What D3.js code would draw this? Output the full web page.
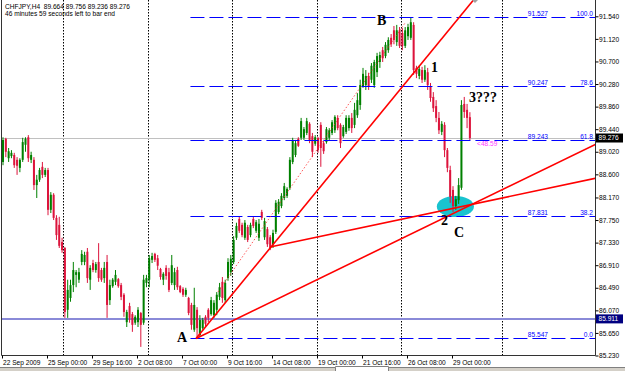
<!DOCTYPE html>
<html>
<head>
<meta charset="utf-8">
<script src="https://cdnjs.cloudflare.com/ajax/libs/d3/7.8.5/d3.min.js"></script>
<style>
  body { margin: 0; background: #fff; }
  svg { display: block; }
</style>
</head>
<body>
<svg id="chart" width="625" height="371"></svg>
<script>
// CHFJPY H4, bar 0 = 22 Sep 2009 08:00, last bar = 30 Oct 2009 00:00
const opens = [
  88.83, 89.26, 88.90, 88.94, 88.96, 88.87, 88.72, 88.87, 89.15, 89.29, 88.87, 88.87, 88.40, 88.50, 88.74, 88.59,
  88.68, 87.94, 88.22, 87.79, 87.66, 87.34, 87.23, 86.08, 86.30, 86.54, 86.73, 86.64, 86.97, 86.97, 87.16, 86.64,
  86.95, 86.82, 86.97, 86.82, 86.67, 86.97, 86.26, 86.52, 86.60, 86.65, 86.54, 86.36, 85.85, 86.15, 86.00, 85.84,
  85.85, 86.02, 85.84, 86.58, 86.64, 87.01, 87.12, 87.04, 86.84, 86.64, 86.86, 86.78, 86.58, 86.54, 86.82, 86.52,
  86.47, 86.36, 86.30, 86.17, 85.71, 86.08, 85.61, 85.74, 85.95, 86.08, 86.00, 85.98, 86.08, 86.32, 86.60, 86.26,
  86.67, 86.78, 86.97, 87.42, 87.77, 87.66, 87.42, 87.62, 87.47, 87.77, 87.55, 87.42, 87.90, 87.43, 87.58, 87.43,
  87.29, 87.53, 87.90, 88.01, 88.16, 88.20, 88.35, 88.83, 88.96, 89.26, 89.28, 89.28, 89.37, 89.54, 89.31, 89.17,
  89.28, 89.52, 89.18, 89.20, 89.28, 89.37, 89.42, 89.65, 89.52, 89.31, 89.39, 89.46, 89.65, 89.52, 89.70, 89.89,
  90.24, 90.26, 90.43, 90.36, 90.26, 90.50, 90.69, 90.91, 90.80, 90.91, 91.14, 91.28, 91.06, 91.28, 91.23, 90.99,
  91.17, 91.14, 91.38, 90.58, 90.43, 90.54, 90.36, 90.50, 90.24, 90.04, 89.87, 89.65, 89.39, 89.52, 89.05, 88.68,
  88.31, 88.01, 88.12, 88.35, 89.91, 89.80, 89.664
];
const highs = [
  89.29, 89.28, 89.09, 89.05, 89.00, 88.92, 88.90, 89.28, 89.29, 89.33, 89.02, 88.92, 88.59, 88.72, 88.83, 88.72,
  88.72, 88.27, 88.25, 87.84, 87.81, 87.42, 87.25, 86.64, 86.64, 86.97, 86.82, 86.86, 87.19, 87.16, 87.23, 86.91,
  87.01, 86.97, 87.32, 86.86, 86.97, 87.10, 86.64, 86.67, 86.82, 86.67, 86.58, 86.39, 86.08, 86.21, 86.04, 85.98,
  86.13, 86.04, 86.73, 86.73, 87.10, 87.14, 87.14, 87.10, 86.86, 86.78, 86.91, 86.86, 87.10, 86.86, 86.88, 86.54,
  86.50, 86.49, 86.32, 86.21, 86.49, 86.13, 85.98, 85.93, 85.98, 86.11, 86.32, 86.26, 86.41, 86.58, 86.69, 86.64,
  87.04, 87.10, 87.45, 87.70, 87.81, 87.70, 87.75, 87.66, 87.70, 87.81, 87.75, 87.77, 87.94, 87.79, 87.62, 87.47,
  87.57, 88.12, 88.14, 88.25, 88.44, 88.36, 88.92, 89.28, 89.24, 89.29, 89.65, 89.48, 89.65, 89.57, 89.37, 89.33,
  89.29, 89.57, 89.22, 89.48, 89.46, 89.61, 89.70, 89.70, 89.55, 89.52, 89.70, 89.70, 89.74, 89.93, 90.11, 90.36,
  90.58, 90.54, 90.49, 90.67, 90.73, 90.86, 90.88, 90.97, 91.06, 91.15, 91.21, 91.36, 91.38, 91.34, 91.32, 91.34,
  91.40, 91.527, 91.43, 90.62, 90.62, 90.60, 90.63, 90.58, 90.30, 90.13, 89.98, 89.76, 89.59, 89.57, 89.09, 88.76,
  88.38, 88.20, 88.53, 89.98, 90.04, 89.91, 89.756
];
const lows = [
  88.77, 88.92, 88.83, 88.90, 88.72, 88.59, 88.64, 88.83, 89.02, 88.83, 88.81, 88.31, 88.16, 88.46, 88.53, 88.55,
  87.84, 87.88, 87.75, 87.38, 87.23, 87.14, 85.93, 85.93, 86.23, 86.41, 86.50, 86.58, 86.91, 86.91, 86.58, 86.45,
  86.78, 86.77, 86.60, 86.60, 86.58, 85.93, 86.17, 86.49, 86.54, 86.49, 86.26, 85.95, 85.76, 85.84, 85.67, 85.80,
  85.76, 85.39, 85.80, 86.50, 86.50, 86.95, 86.97, 86.82, 86.64, 86.54, 86.64, 86.41, 86.54, 86.45, 86.45, 86.39,
  86.32, 86.32, 85.98, 85.71, 85.67, 85.547, 85.59, 85.71, 85.76, 85.85, 85.97, 85.93, 85.98, 86.26, 86.21, 86.21,
  86.62, 86.71, 86.93, 87.38, 87.51, 87.43, 87.38, 87.34, 87.43, 87.60, 87.51, 87.36, 87.75, 87.38, 87.25, 87.19,
  87.23, 87.49, 87.86, 87.97, 88.12, 88.16, 88.31, 88.79, 88.92, 89.11, 89.24, 89.24, 89.33, 89.18, 88.92, 89.13,
  89.00, 88.74, 88.98, 89.17, 89.24, 89.33, 89.37, 89.42, 89.09, 89.28, 89.35, 89.41, 89.37, 89.46, 89.65, 89.80,
  90.21, 90.17, 90.17, 90.30, 90.21, 90.41, 90.58, 90.69, 90.76, 90.86, 90.97, 91.02, 90.99, 90.95, 90.91, 90.95,
  91.10, 91.10, 90.45, 90.39, 90.37, 90.30, 90.32, 90.17, 89.95, 89.76, 89.57, 89.35, 89.33, 88.92, 88.64, 88.07,
  87.90, 87.94, 88.05, 88.31, 89.65, 89.46, 89.236
];
const closes = [
  89.24, 89.02, 89.03, 89.00, 88.77, 88.76, 88.87, 89.20, 89.26, 88.90, 88.96, 88.40, 88.50, 88.68, 88.59, 88.68,
  87.94, 88.22, 87.79, 87.47, 87.27, 87.19, 86.04, 86.45, 86.54, 86.82, 86.78, 86.78, 87.12, 87.10, 86.67, 86.86,
  86.82, 86.93, 86.67, 86.64, 86.86, 86.17, 86.54, 86.64, 86.73, 86.52, 86.32, 86.04, 86.04, 85.93, 85.80, 85.95,
  86.08, 85.80, 86.64, 86.67, 87.04, 87.08, 87.01, 86.90, 86.69, 86.75, 86.71, 86.45, 86.91, 86.78, 86.50, 86.41,
  86.36, 86.45, 86.02, 85.80, 86.17, 85.74, 85.89, 85.89, 85.82, 85.93, 86.26, 86.21, 86.36, 86.50, 86.30, 86.58,
  86.97, 87.03, 87.38, 87.64, 87.55, 87.47, 87.70, 87.38, 87.66, 87.64, 87.71, 87.68, 87.79, 87.73, 87.30, 87.23,
  87.51, 88.07, 88.09, 88.20, 88.38, 88.33, 88.87, 89.22, 89.18, 89.13, 89.59, 89.44, 89.59, 89.24, 89.02, 89.29,
  89.05, 89.09, 89.03, 89.44, 89.42, 89.57, 89.67, 89.46, 89.18, 89.48, 89.65, 89.65, 89.46, 89.80, 89.98, 90.26,
  90.47, 90.43, 90.24, 90.62, 90.69, 90.80, 90.82, 90.76, 91.01, 91.10, 91.02, 91.10, 91.28, 90.99, 90.99, 91.28,
  91.34, 91.43, 90.54, 90.47, 90.56, 90.36, 90.54, 90.26, 90.02, 89.83, 89.65, 89.42, 89.54, 89.05, 88.72, 88.18,
  88.01, 88.14, 88.40, 89.89, 89.76, 89.65, 89.276
];

// time axis
const timeTickBars = [0, 16, 32, 48, 64, 80, 96, 112, 128, 144, 160];
const timeTickLabels = ["22 Sep 2009", "25 Sep 00:00", "29 Sep 16:00", "2 Oct 08:00", "7 Oct 00:00",
  "9 Oct 16:00", "14 Oct 08:00", "19 Oct 00:00", "21 Oct 16:00", "26 Oct 08:00", "29 Oct 00:00"];
const gridBars = [22, 52, 82, 112, 142, 178];

// price axis
const priceTicks = [91.54, 91.12, 90.70, 90.28, 89.86, 89.44, 89.02, 88.60, 88.17, 87.75, 87.33,
  86.91, 86.49, 86.07, 85.65, 85.23];

// objects on the chart
const bidPrice = 89.276;
const hLinePrice = 85.911;
const fibLevels = [0, 38.2, 61.8, 78.6, 100];
const fibLow = 85.547, fibHigh = 91.527, fibStartBar = 67;
const trendLines = [
  {a: [69, 85.547], b: [141.5, 90.175]},
  {a: [69, 85.547], b: [198.4, 88.837]},
  {a: [95.3, 87.249], b: [210.9, 88.525]}
];
const dottedLine = {a: [76.8, 86.412], b: [143.3, 91.415]};
const ellipse = {bar: 161.2, price: 88.002, rBars: 6.6, rPrice: 0.195};
const waveLabels = [
  {t: "A", bar: 62.2, price: 85.482},
  {t: "B", bar: 133.3, price: 91.369},
  {t: "1", bar: 152.5, price: 90.504},
  {t: "2", bar: 156.1, price: 87.649},
  {t: "C", bar: 160.7, price: 87.435},
  {t: "3???", bar: 166.0, price: 89.946}
];
const note = {t: "<48.59", bar: 168.9, price: 89.127};

const FONT = "'Liberation Sans', Arial, sans-serif";
const svg = d3.select("#chart");
const left = 1.5, right = 595.5, bottom = 355.5;

const x = d3.scaleLinear().domain([0, 160]).range([2, 452]);
const y = d3.scaleLinear().domain([85.23, 91.54]).range([355.5, 16.3]);

svg.append("defs").append("clipPath").attr("id", "plotclip")
  .append("rect").attr("x", 2).attr("y", 0).attr("width", 593).attr("height", 355);

const plot = svg.append("g").attr("clip-path", "url(#plotclip)");

// Add vertical grid
plot.selectAll(".vgrid")
  .data(gridBars)
  .enter()
  .append("line")
  .attr("x1", d => Math.floor(x(d)) + 0.5)
  .attr("x2", d => Math.floor(x(d)) + 0.5)
  .attr("y1", 0)
  .attr("y2", bottom)
  .style("stroke", "#000")
  .style("stroke-dasharray", "1.5,1.5");

// Add ellipse (background object)
plot.append("ellipse")
  .attr("cx", x(ellipse.bar))
  .attr("cy", y(ellipse.price))
  .attr("rx", x(ellipse.rBars) - x(0))
  .attr("ry", y(fibLow) - y(fibLow + ellipse.rPrice))
  .style("fill", "#19c3cf");

// Add bid line and horizontal line
plot.append("line")
  .attr("x1", left).attr("x2", right)
  .attr("y1", Math.round(y(bidPrice)) + 0.5).attr("y2", Math.round(y(bidPrice)) + 0.5)
  .style("stroke", "#c0c0c0");
plot.append("line")
  .attr("x1", left).attr("x2", right)
  .attr("y1", y(hLinePrice)).attr("y2", y(hLinePrice))
  .style("stroke", "#8a8ad8")
  .style("stroke-width", 2);

// Add candles
const bars = opens.map((o, i) => ({i: i, o: o, h: highs[i], l: lows[i], c: closes[i]}));
const bull = "#008000", bear = "#dc143c";
const candles = plot.append("g");
candles.selectAll("line")
  .data(bars)
  .enter()
  .append("line")
  .attr("x1", d => x(d.i) + 1)
  .attr("x2", d => x(d.i) + 1)
  .attr("y1", d => y(d.h))
  .attr("y2", d => y(d.l))
  .style("stroke", d => d.c >= d.o ? bull : bear)
  .style("stroke-width", 1);
candles.selectAll("rect")
  .data(bars)
  .enter()
  .append("rect")
  .attr("x", d => x(d.i))
  .attr("width", 2)
  .attr("y", d => y(Math.max(d.o, d.c)))
  .attr("height", d => Math.max(1, Math.abs(y(d.o) - y(d.c))))
  .style("fill", d => d.c >= d.o ? bull : bear);

// Add fibonacci levels
const fib = plot.append("g");
const fibPrice = lv => fibLow + (fibHigh - fibLow) * lv / 100;
fib.selectAll("line")
  .data(fibLevels)
  .enter()
  .append("line")
  .attr("x1", x(fibStartBar))
  .attr("x2", right)
  .attr("y1", d => Math.round(y(fibPrice(d))) + 0.5)
  .attr("y2", d => Math.round(y(fibPrice(d))) + 0.5)
  .style("stroke", "#0000ff")
  .style("stroke-dasharray", "14,5");
fib.selectAll(".fibval")
  .data(fibLevels)
  .enter()
  .append("text")
  .attr("x", 548)
  .attr("y", d => Math.round(y(fibPrice(d))) - 1)
  .attr("text-anchor", "end")
  .text(d => fibPrice(d).toFixed(3))
  .style("fill", "#0000ff")
  .style("font-family", FONT)
  .style("font-size", "6.6px");
fib.selectAll(".fibpct")
  .data(fibLevels)
  .enter()
  .append("text")
  .attr("x", 593)
  .attr("y", d => Math.round(y(fibPrice(d))) - 1)
  .attr("text-anchor", "end")
  .text(d => d.toFixed(1))
  .style("fill", "#0000ff")
  .style("font-family", FONT)
  .style("font-size", "6.6px");

// Add trend lines (rays to the right)
const rayEnd = (a, b, bar) => a[1] + (b[1] - a[1]) * (bar - a[0]) / (b[0] - a[0]);
plot.selectAll(".trend")
  .data(trendLines)
  .enter()
  .append("line")
  .attr("x1", d => x(d.a[0]))
  .attr("y1", d => y(d.a[1]))
  .attr("x2", d => x(260))
  .attr("y2", d => y(rayEnd(d.a, d.b, 260)))
  .style("stroke", "#ff0000")
  .style("stroke-width", 1.6);
plot.append("line")
  .attr("x1", x(dottedLine.a[0])).attr("y1", y(dottedLine.a[1]))
  .attr("x2", x(dottedLine.b[0])).attr("y2", y(dottedLine.b[1]))
  .style("stroke", "#ff2020")
  .style("stroke-opacity", 0.75)
  .style("stroke-dasharray", "1.5,2");

// Add labels
plot.selectAll(".wave")
  .data(waveLabels)
  .enter()
  .append("text")
  .attr("x", d => x(d.bar))
  .attr("y", d => y(d.price))
  .text(d => d.t)
  .style("font-family", "'Liberation Serif', 'Times New Roman', serif")
  .style("font-weight", "bold")
  .style("font-size", "14px")
  .style("fill", "#000");
plot.append("text")
  .attr("x", x(note.bar))
  .attr("y", y(note.price))
  .text(note.t)
  .style("font-family", FONT)
  .style("font-size", "6.6px")
  .style("fill", "#ff40ff");

// Chart shift marker
svg.append("path")
  .attr("d", "M472,0L478,0L475,3Z")
  .style("fill", "#a0a0a0");

// Frame
svg.append("path")
  .attr("d", `M${left},0V${bottom}H${right}V0`)
  .style("fill", "none")
  .style("stroke", "#333");

// Add X axis
svg.append("g")
  .attr("transform", `translate(0,${bottom})`)
  .call(d3.axisBottom(x).tickValues(timeTickBars).tickFormat((d, k) => timeTickLabels[k]).tickSize(3).tickPadding(2))
  .call(g => g.select(".domain").remove())
  .call(g => g.selectAll("line").style("stroke", "#000"))
  .call(g => g.selectAll("text")
    .attr("text-anchor", "start")
    .attr("x", 0.5)
    .style("fill", "#000")
    .style("font-family", FONT)
    .style("font-size", "6.6px"));

// Add Y axis
svg.append("g")
  .attr("transform", `translate(${right},0)`)
  .call(d3.axisRight(y).tickValues(priceTicks).tickFormat(d3.format(".3f")).tickSize(3).tickPadding(0.5))
  .call(g => g.select(".domain").remove())
  .call(g => g.selectAll("line").style("stroke", "#000"))
  .call(g => g.selectAll("text")
    .style("fill", "#000")
    .style("font-family", FONT)
    .style("font-size", "6.6px"));

// Price boxes
const boxes = [{p: bidPrice, fill: "#000"}, {p: hLinePrice, fill: "#000080"}];
const box = svg.selectAll(".pbox").data(boxes).enter().append("g");
box.append("rect")
  .attr("x", right + 0.5)
  .attr("y", d => y(d.p) - 4.5)
  .attr("width", 27)
  .attr("height", 9)
  .style("fill", d => d.fill);
box.append("text")
  .attr("x", right + 3)
  .attr("y", d => y(d.p) + 2.4)
  .text(d => d.p.toFixed(3))
  .style("fill", "#fff")
  .style("font-family", FONT)
  .style("font-size", "6.6px");

// Title
svg.append("text").attr("x", 5).attr("y", 8.5)
  .attr("xml:space", "preserve")
  .text("CHFJPY,H4\u00a0\u00a089.664 89.756 89.236 89.276")
  .style("font-family", FONT).style("font-size", "6.6px").style("fill", "#000");
svg.append("text").attr("x", 5).attr("y", 15.5)
  .text("46 minutes 59 seconds left to bar end")
  .style("font-family", FONT).style("font-size", "6.6px").style("fill", "#000");

// Bottom tab bar
svg.append("rect").attr("x", 0).attr("y", 368).attr("width", 625).attr("height", 3).style("fill", "#d4d0c8");
svg.append("rect").attr("x", 335).attr("y", 366).attr("width", 53).attr("height", 5).style("fill", "#fff");
svg.append("path")
  .attr("d", "M0,367.5H335.5V371M335.5,367.5V366.5H388.5V371M388.5,367.5H625")
  .style("fill", "none")
  .style("stroke", "#808080");
</script>
</body>
</html>
